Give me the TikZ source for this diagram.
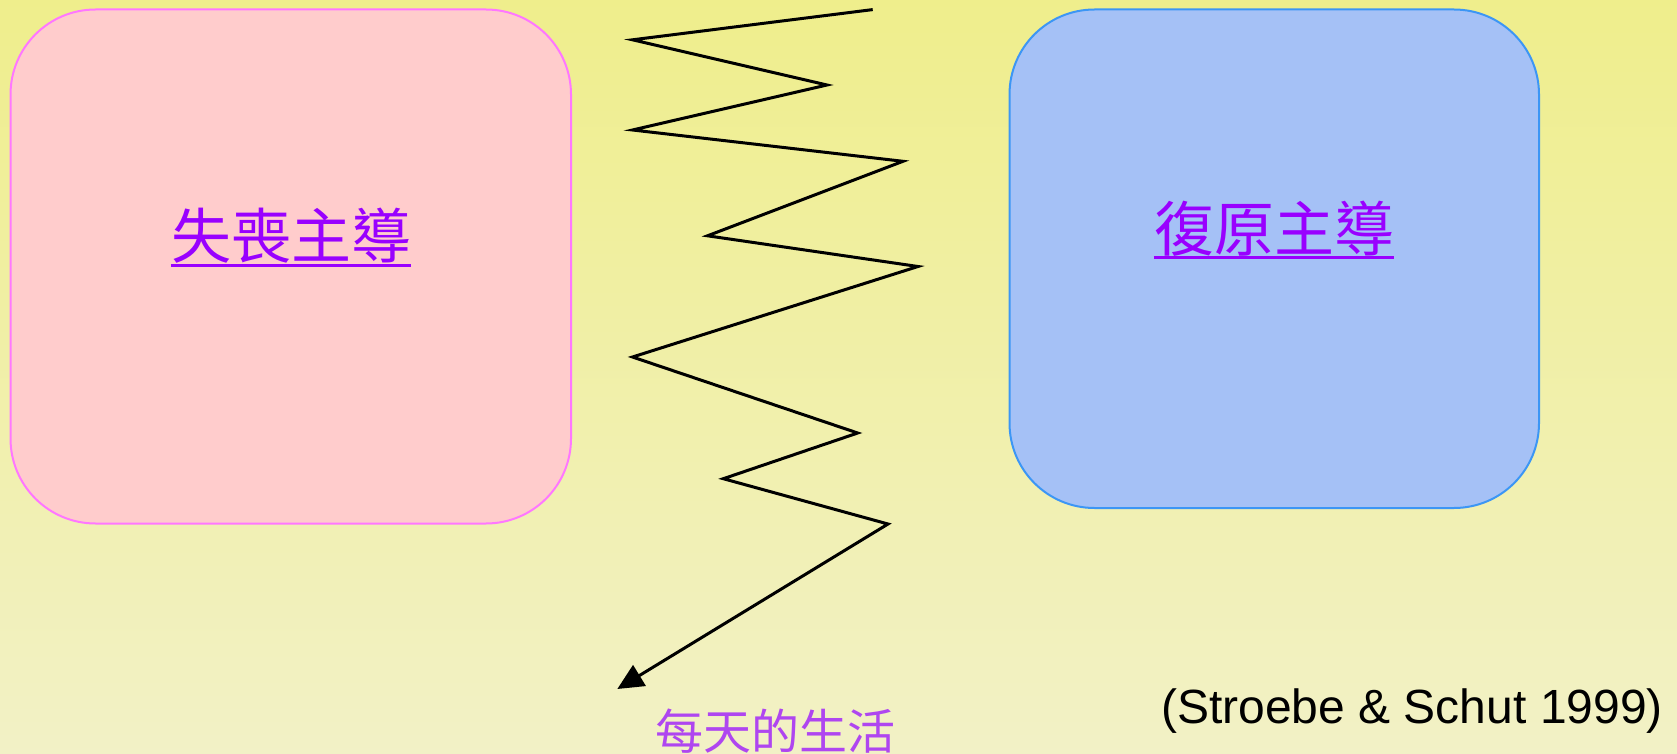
\documentclass[tikz,border=0pt]{standalone}
\usepackage{fontspec}
\setmainfont{Liberation Sans}
\newfontfamily\cjk{Noto Sans CJK TC}
\usetikzlibrary{arrows.meta}
\definecolor{bgtop}{RGB}{239,238,140}
\definecolor{bgbot}{RGB}{242,241,198}
\definecolor{pinkfill}{RGB}{255,204,204}
\definecolor{pinkline}{RGB}{255,119,255}
\definecolor{bluefill}{RGB}{165,193,246}
\definecolor{blueline}{RGB}{60,150,245}
\definecolor{labviolet}{RGB}{153,0,255}
\definecolor{lightviolet}{RGB}{175,70,240}
\tikzset{
  box/.style={draw, line width=2pt, rounded corners=85pt},
  boxlabel/.style={font=\cjk\fontsize{60}{60}\selectfont, text=labviolet, inner sep=0pt, anchor=base},
  underl/.style={draw=labviolet, line width=3pt},
  zig/.style={draw=black, line width=3pt, line join=miter, miter limit=30,
    -{Triangle[length=26pt,width=24pt]}},
  daily/.style={font=\cjk\fontsize{48}{48}\selectfont, text=lightviolet, inner sep=0pt, anchor=base},
  cite/.style={font=\fontsize{48}{48}\selectfont, text=black, inner sep=0pt, anchor=base east}
}
\begin{document}
\begin{tikzpicture}[x=1pt,y=-1pt]
\shade[top color=bgtop, bottom color=bgbot] (0,0) rectangle (1677,754);
\useasboundingbox (0,0) rectangle (1677,754);
% boxes
\path[box, draw=pinkline, fill=pinkfill] (10.5,9.5) rectangle (571,523.5);
\path[box, draw=blueline, fill=bluefill] (1009.5,9.5) rectangle (1539,508);
% labels
\node[boxlabel] (loss) at (291,258.5) {失喪主導};
\draw[underl] ([yshift=-6.5pt]loss.base west) -- ([yshift=-6.5pt]loss.base east);
\node[boxlabel] (rest) at (1274,251) {復原主導};
\draw[underl] ([yshift=-6.5pt]rest.base west) -- ([yshift=-6.5pt]rest.base east);
% zigzag
\coordinate (z0) at (872.7,9.6);
\coordinate (z1) at (632.5,39.8);
\coordinate (z2) at (827,85);
\coordinate (z3) at (632.5,130);
\coordinate (z4) at (903,161.3);
\coordinate (z5) at (707.5,235.8);
\coordinate (z6) at (918,266.5);
\coordinate (z7) at (632.5,357);
\coordinate (z8) at (857.7,433);
\coordinate (z9) at (723.3,478.7);
\coordinate (z10) at (888,524);
\coordinate (z11) at (617.3,689);
\draw[zig] (z0) -- (z1) -- (z2) -- (z3) -- (z4) -- (z5) -- (z6) -- (z7) -- (z8) -- (z9) -- (z10) -- (z11);
% bottom label and citation
\node[daily] (life) at (775,749) {每天的生活};
\node[cite] (ref) at (1663,723.5) {(Stroebe \& Schut 1999)};
\end{tikzpicture}
\end{document}
